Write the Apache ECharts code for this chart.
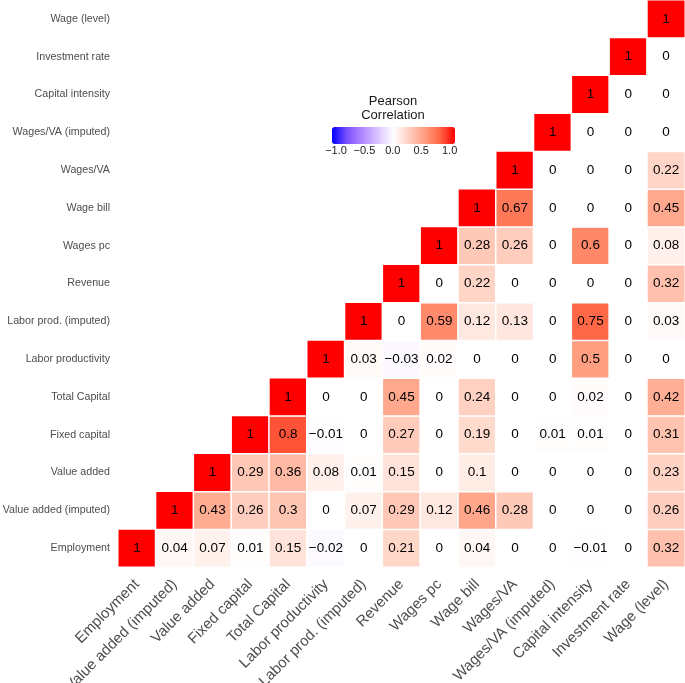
<!DOCTYPE html>
<html>
<head>
<meta charset="utf-8">
<script src="https://cdn.jsdelivr.net/npm/echarts@6/dist/echarts.min.js"></script>
<style>
html,body{margin:0;padding:0;background:#fff;}
#chart{width:685px;height:683px;}
</style>
</head>
<body>
<div id="chart"></div>
<script>
// Variable names (bottom-to-top on y, left-to-right on x)
const labels = ["Employment","Value added (imputed)","Value added","Fixed capital","Total Capital",
  "Labor productivity","Labor prod. (imputed)","Revenue","Wages pc","Wage bill","Wages/VA",
  "Wages/VA (imputed)","Capital intensity","Investment rate","Wage (level)"];

// Each row starts at its diagonal cell and runs to the right
const rowEmployment      = [1,0.04,0.07,0.01,0.15,-0.02,0,0.21,0,0.04,0,0,-0.01,0,0.32];
const rowValueAddedImp   = [1,0.43,0.26,0.3,0,0.07,0.29,0.12,0.46,0.28,0,0,0,0.26];
const rowValueAdded      = [1,0.29,0.36,0.08,0.01,0.15,0,0.1,0,0,0,0,0.23];
const rowFixedCapital    = [1,0.8,-0.01,0,0.27,0,0.19,0,0.01,0.01,0,0.31];
const rowTotalCapital    = [1,0,0,0.45,0,0.24,0,0,0.02,0,0.42];
const rowLaborProd       = [1,0.03,-0.03,0.02,0,0,0,0.5,0,0];
const rowLaborProdImp    = [1,0,0.59,0.12,0.13,0,0.75,0,0.03];
const rowRevenue         = [1,0,0.22,0,0,0,0,0.32];
const rowWagesPc         = [1,0.28,0.26,0,0.6,0,0.08];
const rowWageBill        = [1,0.67,0,0,0,0.45];
const rowWagesVA         = [1,0,0,0,0.22];
const rowWagesVAImp      = [1,0,0,0];
const rowCapitalIntensity= [1,0,0];
const rowInvestmentRate  = [1,0];
const rowWageLevel       = [1];

const legendTicks = [-1.0,-0.5,0.0,0.5,1.0];

const rows = [rowEmployment,rowValueAddedImp,rowValueAdded,rowFixedCapital,rowTotalCapital,
  rowLaborProd,rowLaborProdImp,rowRevenue,rowWagesPc,rowWageBill,rowWagesVA,rowWagesVAImp,
  rowCapitalIntensity,rowInvestmentRate,rowWageLevel];

const data = [];
rows.forEach((r, i) => r.forEach((v, k) => data.push([i + k, i, v])));

const fmtNum = v => (v < 0 ? '\u2212' + Math.abs(v) : String(v));
const fmtTick = v => (v < 0 ? '\u2212' + Math.abs(v).toFixed(1) : v.toFixed(1));

const FONT = 'Liberation Sans, Arial, Helvetica, sans-serif';

// Legend bar geometry
const barLeft = 332, barTop = 127, barLen = 123, barThick = 17;
const tickLeft = 336, tickRight = 449.6;

const graphics = [
  {type:'text', style:{text:'Pearson\nCorrelation', x:393, y:94, align:'center', verticalAlign:'top',
    font:'13px ' + FONT, fill:'#1a1a1a', lineHeight:14}}
];
legendTicks.forEach(t => {
  graphics.push({type:'text', style:{text: fmtTick(t), x: tickLeft + (t + 1) / 2 * (tickRight - tickLeft),
    y: 151, align:'center', verticalAlign:'middle', font:'11px ' + FONT, fill:'#1a1a1a'}});
});

const chart = echarts.init(document.getElementById('chart'), null, {renderer:'canvas'});
chart.setOption({
  animation: false,
  backgroundColor: '#fff',
  grid: {left:118, right:0, top:0, bottom:116, containLabel:false, outerBoundsMode:'none'},
  xAxis: {type:'category', data: labels,
    axisLine:{show:false}, axisTick:{show:false}, splitLine:{show:false},
    axisLabel:{interval:0, rotate:45, fontSize:15, color:'#4d4d4d', fontFamily:FONT, margin:15}},
  yAxis: {type:'category', data: labels,
    axisLine:{show:false}, axisTick:{show:false}, splitLine:{show:false},
    axisLabel:{interval:0, fontSize:10.7, color:'#4d4d4d', fontFamily:FONT, margin:8}},
  visualMap: {type:'continuous', min:-1, max:1, orient:'horizontal', calculable:false,
    left: barLeft, top: barTop, itemWidth: barThick, itemHeight: barLen, padding:0,
    text: null, showLabel:false, realtime:false,
    inRange:{color:['#0000ff','#7e52ff','#b38bff','#dcc4ff','#ffffff','#ffcfbf','#ff9e81','#ff6846','#ff0000']}},
  graphic: graphics,
  series: [{
    type:'heatmap', data: data,
    itemStyle:{borderColor:'#ffffff', borderWidth:1.5},
    label:{show:true, formatter: p => fmtNum(p.value[2]), fontSize:13.5, color:'#000', fontFamily:FONT},
    emphasis:{disabled:true}
  }]
});
</script>
</body>
</html>
